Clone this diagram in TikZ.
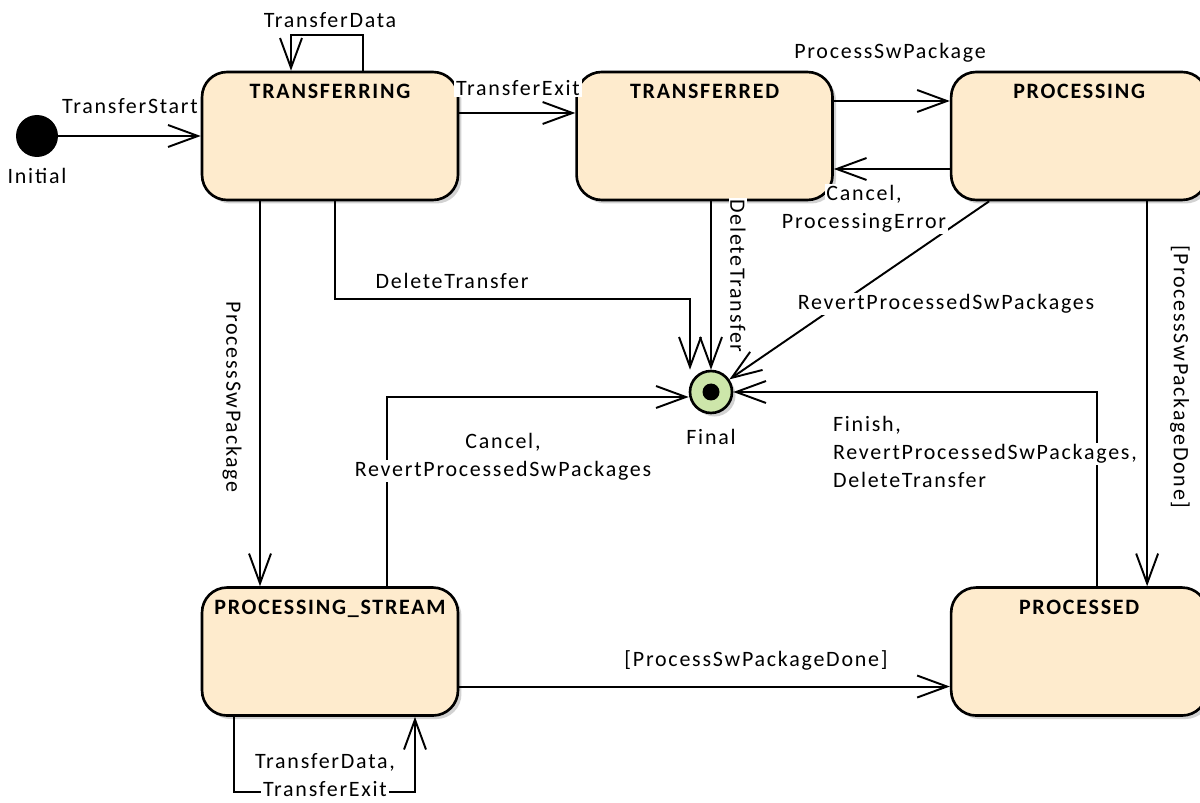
\documentclass[tikz,border=0pt]{standalone}
\usepackage{fontspec}
\setmainfont{Carlito}[LetterSpace=8]
\usetikzlibrary{arrows.meta, positioning, shadows, calc}
\definecolor{statecolor}{RGB}{254,235,205}
\definecolor{finalcolor}{RGB}{205,230,170}
\setlength{\fboxsep}{1pt}
\newcommand{\lline}[1]{\colorbox{white}{#1}}

\begin{document}
\begin{tikzpicture}[
    x=0.02cm, y=-0.02cm,
    font=\fontsize{12.5}{16}\selectfont,
    statebox/.style={rectangle, rounded corners=0.5cm, draw, line width=1.5pt, fill=statecolor, minimum width=5.12cm, minimum height=2.56cm, drop shadow={shadow xshift=2pt, shadow yshift=-2pt, fill=black!35, opacity=0.5}},
    statename/.style={font=\fontsize{12.5}{16}\selectfont\bfseries},
    initdot/.style={circle, fill=black, minimum size=0.84cm, inner sep=0pt},
    finaldot/.style={circle, draw, line width=1.5pt, fill=finalcolor, minimum size=0.84cm, inner sep=0pt, drop shadow={shadow xshift=2pt, shadow yshift=-2pt, fill=black!35, opacity=0.5}},
    lbl/.style={fill=white, inner sep=1pt},
    mlbl/.style={inner sep=0pt},
    trans/.style={->, >={Straight Barb[length=17pt, width=12.5pt]}, line width=1.1pt},
    node distance=2.32cm
]
    \useasboundingbox (0,0) rectangle (1200,803);

    % Initial and final pseudo states
    \node[initdot] (init) at (37,136) {};
    \node[below=0.1cm of init] (initname) {Initial};
    \node[finaldot] (final) at (711,392) {};
    \fill (final) circle (0.17cm);
    \node[below=0.18cm of final] (finalname) {Final};

    % States
    \node[statebox] (transferring) at (330,136) {};
    \node[statebox, right=of transferring] (transferred) {};
    \node[statebox, right=of transferred] (processing) {};
    \node[statebox, below=7.7cm of transferring] (pstream) {};
    \node[statebox, below=7.7cm of processing] (processed) {};

    \node[statename, below=0.15cm of transferring.north] (transferringname) {TRANSFERRING};
    \node[statename, below=0.15cm of transferred.north] (transferredname) {TRANSFERRED};
    \node[statename, below=0.15cm of processing.north] (processingname) {PROCESSING};
    \node[statename, below=0.15cm of pstream.north] (pstreamname) {PROCESSING\_STREAM};
    \node[statename, below=0.15cm of processed.north] (processedname) {PROCESSED};

    % Transitions
    \draw[trans] (init) -- (init -| transferring.west);
    \draw[trans] ($(transferring.north)+(33,0)$) -- ++(0,-36) -| ($(transferring.north)+(-39,0)$);
    \draw[trans] ($(transferring.east)+(0,-23)$) -- ($(transferred.west)+(0,-23)$);
    \draw[trans] ($(transferred.east)+(0,-35)$) -- ($(processing.west)+(0,-35)$);
    \draw[trans] ($(processing.west)+(0,33)$) -- ($(transferred.east)+(0,33)$);
    \draw[trans] ($(transferring.south)+(5,0)$) |- ($(final.north)+(-21,-71)$) -- ($(final.north)+(-21,0)$);
    \draw[trans] (transferred.south -| final.north) -- (final.north);
    \draw[trans] ($(processing.south)+(-90,0)$) -- (final);
    \draw[trans] ($(transferring.south)+(-70,0)$) -- ($(pstream.north)+(-70,0)$);
    \draw[trans] ($(processing.south)+(68,0)$) -- ($(processed.north)+(68,0)$);
    \draw[trans] ($(pstream.north)+(57,0)$) |- ($(final.west)+(0,5)$);
    \draw[trans] ($(processed.north)+(18,0)$) |- (final.east);
    \draw[trans] ($(pstream.east)+(0,35)$) -- ($(processed.west)+(0,35)$);
    \draw[trans] ($(pstream.south)+(-96,0)$) -- ++(0,75) -| ($(pstream.south)+(85,0)$);

    % Transition labels
    \node[lbl] (lstart) at (130,106) {TransferStart};
    \node[lbl] (ldata) at (330,20) {TransferData};
    \node[lbl] (lexit) at (518,88) {TransferExit};
    \node[lbl] (lprocess) at (890,53) {ProcessSwPackage};
    \node[mlbl, align=center] (lcancel) at (864,209) {\lline{Cancel,}\\\lline{ProcessingError}};
    \node[lbl] (ldelete) at (452,281) {DeleteTransfer};
    \node[lbl, rotate=-90] (ldelete2) at (738,276) {DeleteTransfer};
    \node[lbl] (lrevert) at (946,304) {RevertProcessedSwPackages};
    \node[lbl, rotate=-90] (lprocess2) at (232,397) {ProcessSwPackage};
    \node[lbl, rotate=-90] (ldone) at (1180,377) {[ProcessSwPackageDone]};
    \node[mlbl, align=center] (lcancel2) at (503,457) {\lline{Cancel,}\\\lline{RevertProcessedSwPackages}};
    \node[mlbl, align=left, anchor=west] (lfinish) at (831,452) {\lline{Finish,}\\\lline{RevertProcessedSwPackages,}\\\lline{DeleteTransfer}};
    \node[lbl] (ldone2) at (756,660) {[ProcessSwPackageDone]};
    \node[mlbl, align=center] (lloop) at (325,775) {\lline{TransferData,}\\\lline{TransferExit}};
\end{tikzpicture}
\end{document}
